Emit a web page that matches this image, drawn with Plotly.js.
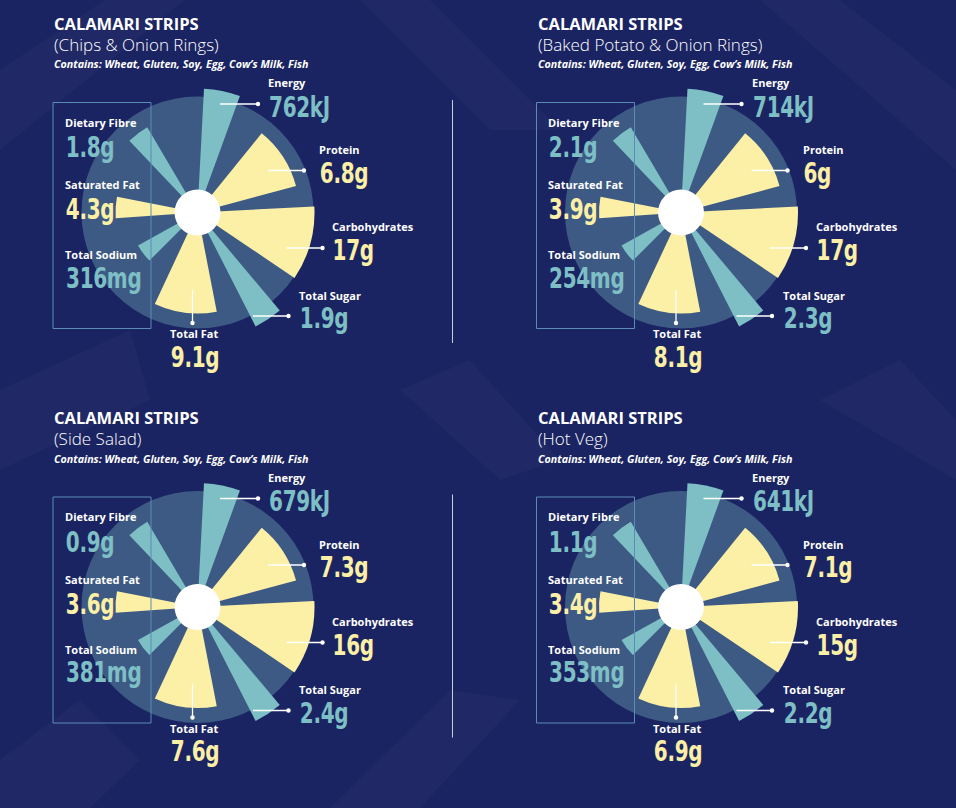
<!DOCTYPE html>
<html><head><meta charset="utf-8">
<script src="https://cdn.plot.ly/plotly-3.0.1.min.js"></script>
<style>html,body{margin:0;padding:0;background:#1b2462;} #chart{width:956px;height:808px;}</style>
</head><body><div id="chart"></div>
<script>
// ---------- data ----------
const dish = 'CALAMARI STRIPS';
const sides = ['(Chips & Onion Rings)', '(Baked Potato & Onion Rings)', '(Side Salad)', '(Hot Veg)'];
const allergens = 'Contains: Wheat, Gluten, Soy, Egg, Cow\u2019s Milk, Fish';
const nutrients = ['Energy', 'Protein', 'Carbohydrates', 'Total Sugar', 'Total Fat', 'Total Sodium', 'Saturated Fat', 'Dietary Fibre'];
const units = ['kJ', 'g', 'g', 'g', 'g', 'mg', 'g', 'g'];
const energy        = [762, 714, 679, 641];
const protein       = [6.8, 6, 7.3, 7.1];
const carbohydrates = [17, 17, 16, 15];
const totalSugar    = [1.9, 2.3, 2.4, 2.2];
const totalFat      = [9.1, 8.1, 7.6, 6.9];
const totalSodium   = [316, 254, 381, 353];
const saturatedFat  = [4.3, 3.9, 3.6, 3.4];
const dietaryFibre  = [1.8, 2.1, 0.9, 1.1];
const series = [energy, protein, carbohydrates, totalSugar, totalFat, totalSodium, saturatedFat, dietaryFibre];

// ---------- design (decorative petal geometry, same on every card) ----------
const design = {
  petalReach: [124, 102, 117, 128, 101, 68, 82, 99],
  petalAngle: [11.5, 57, 105.5, 146.5, 187, 233, 273.5, 323],
  petalSpan:  [17, 36, 37, 13, 36, 16, 15, 13],
  petalTone:  ['teal', 'yellow', 'yellow', 'teal', 'yellow', 'teal', 'yellow', 'teal'],
  discR: 116, hubR: 23, rangeR: 130
};
const C = {bg: '#1b2462', disc: '#3d5a84', teal: '#7dbfc4', yellow: '#fcefa6', white: '#ffffff', box: '#5a8cb6', sep: '#c9ccd9'};
// label placement relative to card centre (px, y down)
const place = {
  name:  [[71,-130],[122,-63],[135,14],[102,82.5],[-27.5,121],[-132.5,42.5],[-132.5,-27.5],[-132.5,-90.5]],
  value: [[71,-106],[122,-40],[135,37.5],[102,105.5],[-27.5,144],[-132.5,65],[-132.5,-3.5],[-132.5,-65.5]],
  leader: [[22.5,-108.5,60.5,-108.5],[70.5,-42,106.5,-42],[89,35.5,125,35.5],[55.5,103.5,91,103.5],[-5,77.5,-5,110.5],null,null,null]
};
const W = 956, H = 808;
const centres = [[197.5,212.5],[681,212.5],[197.5,607],[681,607]];
const px = x => x / W, py = y => 1 - y / H;

const NAME_FONT = {family: 'Open Sans, sans-serif', size: 11, color: C.white, weight: 700};
const VALUE_FAMILY = 'DejaVu Sans Condensed, sans-serif';
const VALUE_SIZE = 29;

const traces = [], annotations = [], shapes = [];
const valueIdx = [];
const layout = {
  width: W, height: H, margin: {l:0, r:0, t:0, b:0},
  paper_bgcolor: C.bg, plot_bgcolor: C.bg, showlegend: false,
  annotations, shapes
};

// faint background ribbons
const ribbons = [
  'M0,150 L0,70 L105,0 L185,0 Z',
  'M360,0 L430,0 L560,130 L490,130 Z',
  'M0,470 L0,390 L130,330 L150,400 Z',
  'M400,390 L470,360 L560,460 L500,480 Z',
  'M330,808 L420,808 L520,700 L450,690 Z',
  'M760,0 L840,0 L956,90 L956,170 Z',
  'M820,400 L900,360 L956,420 L956,480 Z',
  'M0,760 L80,700 L140,760 L90,808 L0,808 Z'
];
ribbons.forEach(p => {
  const path = p.replace(/([ML])(\d+(?:\.\d+)?),(\d+(?:\.\d+)?)/g, (m, c, x, y) => c + px(+x).toFixed(4) + ',' + py(+y).toFixed(4));
  shapes.push({type:'path', xref:'paper', yref:'paper', path, fillcolor:'rgba(255,255,255,0.022)', line:{width:0}, layer:'below'});
});

centres.forEach(([cx, cy], i) => {
  const key = i === 0 ? 'polar' : 'polar' + (i + 1);
  const R = design.rangeR;
  layout[key] = {
    domain: {x: [px(cx - R), px(cx + R)], y: [py(cy + R), py(cy - R)]},
    bgcolor: 'rgba(0,0,0,0)', barmode: 'overlay', hole: 0,
    radialaxis: {range: [0, R], visible: false, showgrid: false, showline: false, showticklabels: false, ticks: ''},
    angularaxis: {rotation: 90, direction: 'clockwise', visible: false, showgrid: false, showline: false, showticklabels: false, ticks: ''}
  };
  traces.push({type: 'barpolar', subplot: key, r: [design.discR], theta: [0], width: [360],
    marker: {color: C.disc, line: {width: 0}}, hoverinfo: 'skip'});
  traces.push({type: 'barpolar', subplot: key, r: design.petalReach, theta: design.petalAngle, width: design.petalSpan,
    marker: {color: design.petalTone.map(t => C[t]), line: {width: 0}},
    customdata: series.map((s, k) => s[i] + units[k]), text: nutrients,
    hovertemplate: '%{text}: %{customdata}<extra></extra>'});
  traces.push({type: 'barpolar', subplot: key, r: [design.hubR], theta: [0], width: [360],
    marker: {color: C.white, line: {width: 0}}, hoverinfo: 'skip'});

  const left = cx - 145.5;
  annotations.push({xref:'paper', yref:'paper', x: px(left), y: py(cy - 189.5), xanchor:'left', yanchor:'middle', showarrow:false,
    text: dish, font: {family:'Open Sans, sans-serif', size:16.5, color:C.white, weight:700}});
  annotations.push({xref:'paper', yref:'paper', x: px(left), y: py(cy - 168.5), xanchor:'left', yanchor:'middle', showarrow:false,
    text: sides[i], font: {family:'Open Sans, sans-serif', size:17, color:C.white, weight:300}});
  annotations.push({xref:'paper', yref:'paper', x: px(left), y: py(cy - 148.5), xanchor:'left', yanchor:'middle', showarrow:false,
    text: allergens, font: {family:'Open Sans, sans-serif', size:10.7, color:C.white, weight:700, style:'italic'}});

  shapes.push({type:'rect', xref:'paper', yref:'paper', x0: px(cx - 144.5), x1: px(cx - 46.5), y0: py(cy + 116), y1: py(cy - 110),
    line: {color: C.box, width: 1}, fillcolor: 'rgba(0,0,0,0)', layer: 'above'});

  nutrients.forEach((n, k) => {
    const [nx, ny] = place.name[k];
    const [vx, vy] = place.value[k];
    annotations.push({xref:'paper', yref:'paper', x: px(cx + nx - 0.5), y: py(cy + ny), xanchor:'left', yanchor:'middle', showarrow:false,
      borderpad: 0, borderwidth: 0, text: n, font: NAME_FONT});
    valueIdx.push(annotations.length);
    annotations.push({xref:'paper', yref:'paper', x: px(cx + vx - 0.5), y: py(cy + vy), xanchor:'left', yanchor:'middle', showarrow:false,
      borderpad: 0, borderwidth: 0,
      text: series[k][i] + units[k], font: {family: VALUE_FAMILY, size: VALUE_SIZE, weight: 700, color: C[design.petalTone[k]]}});
    const L = place.leader[k];
    if (L) {
      shapes.push({type:'line', xref:'paper', yref:'paper', x0: px(cx + L[0]), y0: py(cy + L[1]), x1: px(cx + L[2]), y1: py(cy + L[3]),
        line: {color: C.white, width: 1.3}, layer: 'above'});
      shapes.push({type:'circle', xref:'paper', yref:'paper', x0: px(cx + L[2] - 2.2), x1: px(cx + L[2] + 2.2),
        y0: py(cy + L[3] + 2.2), y1: py(cy + L[3] - 2.2), fillcolor: C.white, line: {width: 0}, layer: 'above'});
    }
  });
});

[100, 494.5].forEach(y0 => {
  shapes.push({type:'line', xref:'paper', yref:'paper', x0: px(452.5), x1: px(452.5), y0: py(y0), y1: py(y0 + 243),
    line: {color: C.sep, width: 1}});
});

Plotly.newPlot('chart', traces, layout, {displayModeBar: false, staticPlot: true}).then(gd => {
  // narrow the big numbers to the poster's condensed display width
  const nodes = valueIdx.map(j => gd.querySelector('g.annotation[data-index="' + j + '"] text.annotation-text')).filter(Boolean);
  if (!nodes.length) return;
  nodes.forEach(t => { t.style.letterSpacing = '-0.4px'; });
  const w = nodes[0].getBBox().width;           // "762kJ"
  const k = Math.min(1, 61 / w);
  if (k < 0.98) nodes.forEach(t => {
    t.style.transformBox = 'fill-box';
    t.style.transformOrigin = '0% 50%';
    t.style.transform = 'scaleX(' + k.toFixed(3) + ')';
  });
});
</script>
</body></html>
